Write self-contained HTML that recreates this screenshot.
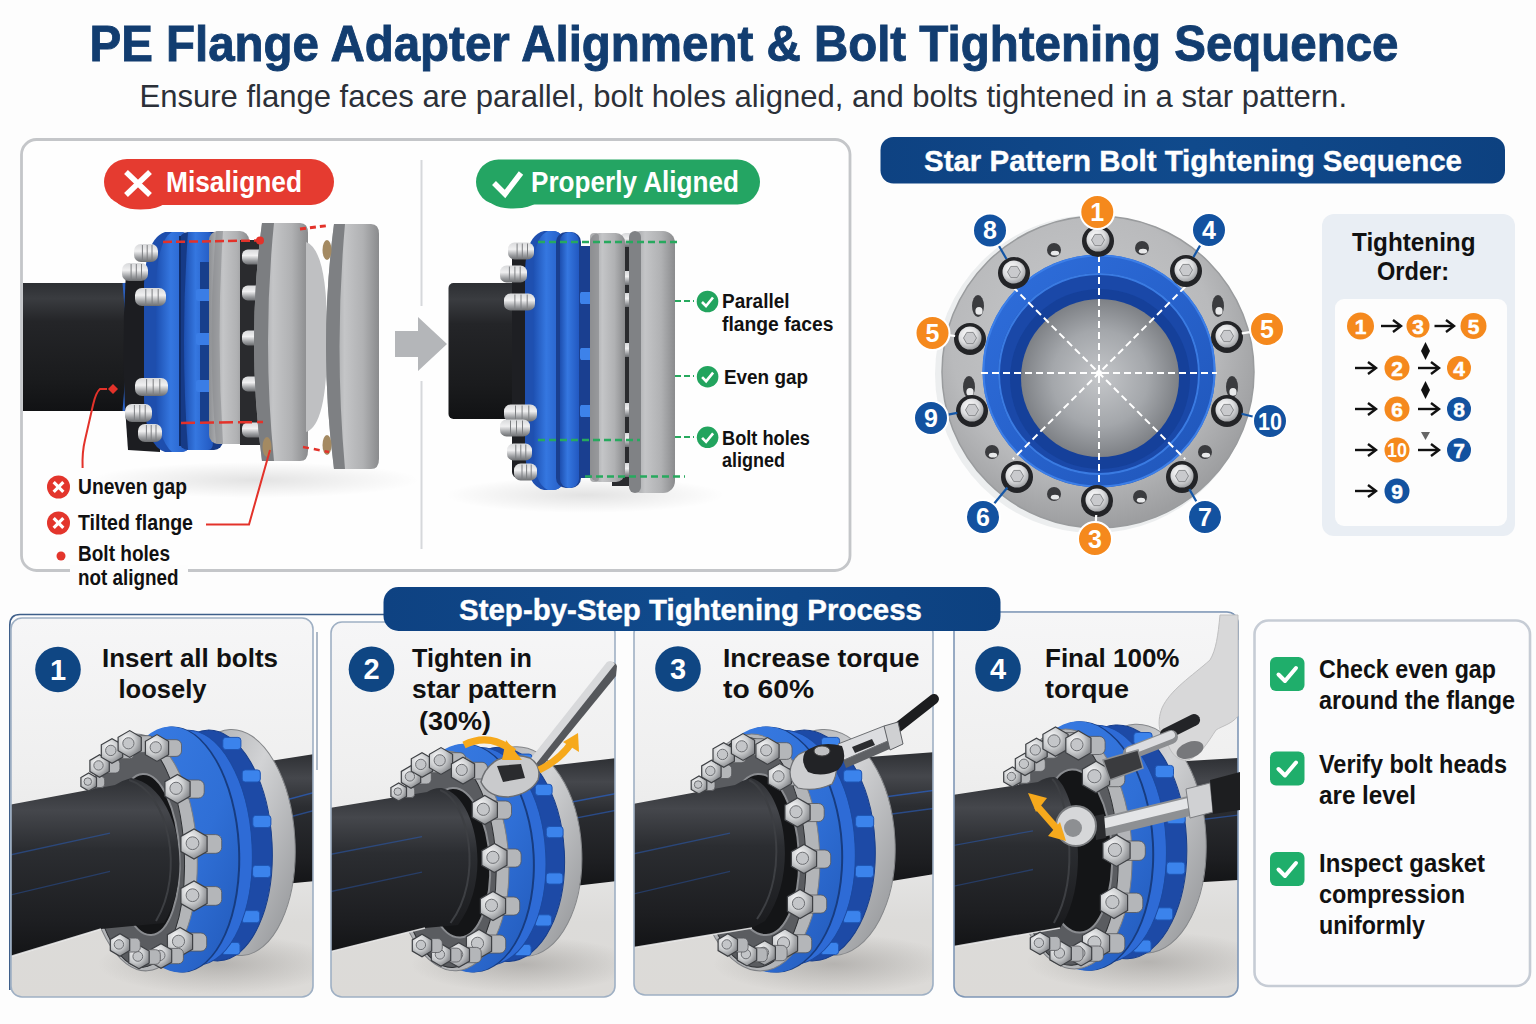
<!DOCTYPE html>
<html><head><meta charset="utf-8"><title>PE Flange Adapter Alignment</title>
<style>html,body{margin:0;padding:0;background:#fdfdfd;}svg{display:block;}</style></head>
<body><svg width="1536" height="1024" viewBox="0 0 1536 1024">
<defs>
<linearGradient id="pipeV" x1="0" y1="0" x2="0" y2="1">
 <stop offset="0" stop-color="#2d2f33"/><stop offset="0.12" stop-color="#3a3c40"/><stop offset="0.3" stop-color="#242528"/>
 <stop offset="0.75" stop-color="#1a1b1d"/><stop offset="1" stop-color="#111214"/></linearGradient>
<linearGradient id="metalH" x1="0" y1="0" x2="1" y2="0">
 <stop offset="0" stop-color="#8e9093"/><stop offset="0.35" stop-color="#c4c5c7"/><stop offset="0.7" stop-color="#b0b1b3"/><stop offset="1" stop-color="#8a8b8d"/></linearGradient>
<linearGradient id="blueH" x1="0" y1="0" x2="1" y2="0">
 <stop offset="0" stop-color="#1d4fb0"/><stop offset="0.4" stop-color="#3577e0"/><stop offset="1" stop-color="#2258c0"/></linearGradient>
<linearGradient id="panelBg" x1="0" y1="0" x2="0" y2="1">
 <stop offset="0" stop-color="#f4f4f5"/><stop offset="0.45" stop-color="#e9e9ea"/><stop offset="0.7" stop-color="#dddbd9"/><stop offset="1" stop-color="#e6e4e2"/></linearGradient>
<linearGradient id="navyBar" x1="0" y1="0" x2="1" y2="0">
 <stop offset="0" stop-color="#0e4282"/><stop offset="0.5" stop-color="#104a8c"/><stop offset="1" stop-color="#0d4180"/></linearGradient>
<radialGradient id="shadow" cx="0.5" cy="0.5" r="0.5">
 <stop offset="0" stop-color="#000" stop-opacity="0.18"/><stop offset="1" stop-color="#000" stop-opacity="0"/></radialGradient>
</defs>
<rect x="0" y="0" width="1536" height="1024" fill="#fdfdfd"/>
<defs><linearGradient id="boltG" x1="0" y1="0" x2="0" y2="1">
 <stop offset="0" stop-color="#d8d9db"/><stop offset="0.4" stop-color="#f0f0f1"/><stop offset="0.75" stop-color="#9c9ea1"/><stop offset="1" stop-color="#6b6d70"/></linearGradient></defs>
<text x="89.5" y="61.3" font-family="'Liberation Sans', sans-serif" font-size="50.5" font-weight="700" fill="#123d70" text-anchor="start" textLength="1309" lengthAdjust="spacingAndGlyphs" stroke="#123d70" stroke-width="0.9">PE Flange Adapter Alignment &amp; Bolt Tightening Sequence</text>
<text x="139.5" y="107" font-family="'Liberation Sans', sans-serif" font-size="31.5" font-weight="400" fill="#2b3038" text-anchor="start" textLength="1207.5" lengthAdjust="spacingAndGlyphs" >Ensure flange faces are parallel, bolt holes aligned, and bolts tightened in a star pattern.</text>
<rect x="21.5" y="139.5" width="828.5" height="431" rx="15" fill="#fefefe" stroke="#c4c6c9" stroke-width="2.8"/>
<line x1="421.5" y1="160" x2="421.5" y2="549" stroke="#d6d8db" stroke-width="2"/>
<path d="M113 196 Q118 212 150 209 Q162 207 170 200 L120 190 Z" fill="#e53b30"/>
<rect x="104" y="159" width="230" height="46" rx="23" fill="#e53b30"/>
<path d="M126 172 L150 195 M150 172 L126 195" stroke="#fff" stroke-width="5.5" stroke-linecap="butt"/>
<text x="166" y="192" font-family="'Liberation Sans', sans-serif" font-size="29" font-weight="700" fill="#fff" text-anchor="start" textLength="136" lengthAdjust="spacingAndGlyphs" >Misaligned</text>
<path d="M484 194 Q490 211 522 208 Q534 206 542 199 L492 190 Z" fill="#24a563"/>
<rect x="476" y="159.5" width="284" height="45" rx="22.5" fill="#24a563"/>
<path d="M494 183 L505 194 L521 173" stroke="#fff" stroke-width="5.5" fill="none" stroke-linecap="butt" stroke-linejoin="miter"/>
<text x="531" y="191.5" font-family="'Liberation Sans', sans-serif" font-size="29" font-weight="700" fill="#fff" text-anchor="start" textLength="208" lengthAdjust="spacingAndGlyphs" >Properly Aligned</text>
<ellipse cx="255" cy="480" rx="165" ry="18" fill="url(#shadow)" opacity="0.6"/>
<rect x="23" y="283" width="106" height="128" fill="url(#pipeV)"/>
<path d="M124 283 Q131 347 124 411" stroke="#2a5fc0" stroke-width="3" fill="none"/>
<path d="M126 272 L160 262 L160 452 L128 450 Q120 360 126 272 Z" fill="#1c1d21"/>
<path d="M165 232 L180 232 Q193 232 193 250 L193 434 Q193 452 180 452 L165 452 Q146 446 144 400 L144 284 Q146 238 165 232 Z" fill="#1e4ead"/>
<path d="M172 232 L180 232 Q193 232 193 250 L193 434 Q193 452 180 452 L172 452 Q158 440 156 400 L156 284 Q158 240 172 232 Z" fill="url(#blueH)"/>
<rect x="179" y="232" width="44" height="218" rx="9" fill="#163a86"/>
<path d="M188 232 L208 232 Q213 232 213 240 L213 442 Q213 450 208 450 L188 450 Q180 341 188 232 Z" fill="url(#blueH)"/>
<line x1="180" y1="236" x2="180" y2="446" stroke="#0f2b66" stroke-width="2"/>
<rect x="200" y="262" width="12" height="160" fill="#173f8c"/>
<rect x="196" y="289" width="20" height="12" rx="2" fill="#3a7de6"/>
<rect x="196" y="333" width="20" height="12" rx="2" fill="#3a7de6"/>
<rect x="196" y="380" width="20" height="12" rx="2" fill="#3a7de6"/>
<rect x="209" y="231" width="40" height="213" rx="9" fill="url(#metalH)"/>
<path d="M216 231 Q207 337 216 444 L223 444 Q216 337 223 231 Z" fill="#8a8c8f" opacity="0.6"/>
<rect x="240" y="240" width="20" height="205" fill="#2a2b2e"/>
<rect x="242" y="249.5" width="26" height="15" rx="5.769230769230769" fill="url(#boltG)"/>
<rect x="242" y="285.5" width="26" height="15" rx="5.769230769230769" fill="url(#boltG)"/>
<rect x="242" y="330.5" width="26" height="15" rx="5.769230769230769" fill="url(#boltG)"/>
<rect x="242" y="376.5" width="26" height="15" rx="5.769230769230769" fill="url(#boltG)"/>
<rect x="242" y="422.5" width="26" height="15" rx="5.769230769230769" fill="url(#boltG)"/>
<path d="M262 223 L300 223 Q308 223 308 233 L308 451 Q308 461 300 461 L262 461 Q246 342 262 223 Z" fill="url(#metalH)"/>
<path d="M262 223 Q246 342 262 461 L274 461 Q262 342 274 223 Z" fill="#7c7e81"/>
<path d="M306 242 Q328 250 327 337 Q328 425 306 432 Z" fill="#bfc0c2"/>
<path d="M334 224 L371 224 Q379 224 379 234 L379 459 Q379 469 371 469 L334 469 Q318 347 334 224 Z" fill="url(#metalH)"/>
<path d="M334 224 Q318 347 334 469 L345 469 Q334 347 345 224 Z" fill="#7e8083"/>
<ellipse cx="327" cy="250" rx="4.5" ry="10" fill="#a48a62"/>
<ellipse cx="327" cy="445" rx="4.5" ry="10" fill="#a48a62"/>
<ellipse cx="267" cy="447" rx="4.5" ry="10" fill="#a48a62"/>
<rect x="134" y="244.0" width="24" height="18" rx="6.9230769230769225" fill="url(#boltG)"/>
<line x1="142.4" y1="245.0" x2="142.4" y2="261.0" stroke="#7d7f82" stroke-width="1"/>
<line x1="147.2" y1="245.0" x2="147.2" y2="261.0" stroke="#7d7f82" stroke-width="1"/>
<line x1="152.0" y1="245.0" x2="152.0" y2="261.0" stroke="#7d7f82" stroke-width="1"/>
<rect x="122" y="263.0" width="26" height="18" rx="6.9230769230769225" fill="url(#boltG)"/>
<line x1="131.1" y1="264.0" x2="131.1" y2="280.0" stroke="#7d7f82" stroke-width="1"/>
<line x1="136.3" y1="264.0" x2="136.3" y2="280.0" stroke="#7d7f82" stroke-width="1"/>
<line x1="141.5" y1="264.0" x2="141.5" y2="280.0" stroke="#7d7f82" stroke-width="1"/>
<rect x="135" y="288.0" width="31" height="18" rx="6.9230769230769225" fill="url(#boltG)"/>
<line x1="145.8" y1="289.0" x2="145.8" y2="305.0" stroke="#7d7f82" stroke-width="1"/>
<line x1="152.1" y1="289.0" x2="152.1" y2="305.0" stroke="#7d7f82" stroke-width="1"/>
<line x1="158.2" y1="289.0" x2="158.2" y2="305.0" stroke="#7d7f82" stroke-width="1"/>
<rect x="135" y="378.0" width="33" height="18" rx="6.9230769230769225" fill="url(#boltG)"/>
<line x1="146.6" y1="379.0" x2="146.6" y2="395.0" stroke="#7d7f82" stroke-width="1"/>
<line x1="153.2" y1="379.0" x2="153.2" y2="395.0" stroke="#7d7f82" stroke-width="1"/>
<line x1="159.8" y1="379.0" x2="159.8" y2="395.0" stroke="#7d7f82" stroke-width="1"/>
<rect x="125" y="404.0" width="27" height="18" rx="6.9230769230769225" fill="url(#boltG)"/>
<line x1="134.4" y1="405.0" x2="134.4" y2="421.0" stroke="#7d7f82" stroke-width="1"/>
<line x1="139.8" y1="405.0" x2="139.8" y2="421.0" stroke="#7d7f82" stroke-width="1"/>
<line x1="145.2" y1="405.0" x2="145.2" y2="421.0" stroke="#7d7f82" stroke-width="1"/>
<rect x="138" y="424.0" width="24" height="18" rx="6.9230769230769225" fill="url(#boltG)"/>
<line x1="146.4" y1="425.0" x2="146.4" y2="441.0" stroke="#7d7f82" stroke-width="1"/>
<line x1="151.2" y1="425.0" x2="151.2" y2="441.0" stroke="#7d7f82" stroke-width="1"/>
<line x1="156.0" y1="425.0" x2="156.0" y2="441.0" stroke="#7d7f82" stroke-width="1"/>
<path d="M163 242 L260 240.5" stroke="#e3322a" stroke-width="2.5" stroke-dasharray="9 4"/>
<circle cx="260" cy="240.5" r="4" fill="#e3322a"/>
<path d="M300 229 L329 225.5" stroke="#e3322a" stroke-width="3" stroke-dasharray="6 4"/>
<path d="M181 423 L263 422" stroke="#e3322a" stroke-width="2.5" stroke-dasharray="14 5"/>
<path d="M303 447 L329 452" stroke="#e3322a" stroke-width="2.5" stroke-dasharray="6 5"/>
<path d="M107 389 L100 389 Q96 392 93 405 L85 440 Q82 452 82.6 468" stroke="#e3322a" stroke-width="2" fill="none"/>
<path d="M108 389 L113 384 L118 389 L113 394 Z" fill="#e3322a"/>
<path d="M206 524.5 L249 524.5 L270 450" stroke="#e3322a" stroke-width="2" fill="none"/>
<circle cx="58.5" cy="487" r="11.5" fill="#e3352c"/>
<path d="M53.67 482.17 L63.33 491.83 M63.33 482.17 L53.67 491.83" stroke="#fff" stroke-width="3.2"/>
<circle cx="58.5" cy="523" r="11.5" fill="#e3352c"/>
<path d="M53.67 518.17 L63.33 527.83 M63.33 518.17 L53.67 527.83" stroke="#fff" stroke-width="3.2"/>
<text x="78" y="494" font-family="'Liberation Sans', sans-serif" font-size="22" font-weight="700" fill="#111" text-anchor="start" textLength="109" lengthAdjust="spacingAndGlyphs" >Uneven gap</text>
<text x="78" y="529.5" font-family="'Liberation Sans', sans-serif" font-size="22" font-weight="700" fill="#111" text-anchor="start" textLength="115" lengthAdjust="spacingAndGlyphs" >Tilted flange</text>
<rect x="70" y="565" width="118" height="10" fill="#fdfdfd"/>
<circle cx="61" cy="556" r="4.5" fill="#e3352c"/>
<text x="78" y="561" font-family="'Liberation Sans', sans-serif" font-size="22" font-weight="700" fill="#111" text-anchor="start" textLength="92" lengthAdjust="spacingAndGlyphs" >Bolt holes</text>
<text x="78" y="585" font-family="'Liberation Sans', sans-serif" font-size="22" font-weight="700" fill="#111" text-anchor="start" textLength="100.5" lengthAdjust="spacingAndGlyphs" >not aligned</text>
<rect x="418" y="306" width="7" height="75" fill="#fefefe"/>
<path d="M395 331 L418 331 L418 317 L447 344 L418 371 L418 357 L395 357 Z" fill="#b4b6b9"/>
<ellipse cx="585" cy="495" rx="140" ry="18" fill="url(#shadow)" opacity="0.6"/>
<rect x="448.5" y="283" width="80" height="136" rx="5" fill="url(#pipeV)"/>
<rect x="512" y="246" width="20" height="232" rx="6" fill="#1e1f23"/>
<rect x="572" y="246" width="30" height="232" fill="#1a3f90"/>
<rect x="574" y="292" width="24" height="12" rx="2" fill="#3d82ea"/>
<rect x="574" y="348" width="24" height="12" rx="2" fill="#3d82ea"/>
<rect x="574" y="405" width="24" height="12" rx="2" fill="#3d82ea"/>
<path d="M544 231 L552 231 Q566 231 566 252 L566 469 Q566 490 552 490 L544 490 Q526 486 525 450 L525 271 Q526 235 544 231 Z" fill="#1f50b0"/>
<path d="M548 231 L552 231 Q566 231 566 252 L566 469 Q566 490 552 490 L548 490 Q534 484 533 450 L533 271 Q534 237 548 231 Z" fill="url(#blueH)"/>
<rect x="556" y="232" width="25" height="256" rx="10" fill="#1a3f8f"/>
<rect x="560" y="232" width="19" height="256" rx="9" fill="url(#blueH)"/>
<rect x="580" y="292" width="12" height="12" rx="2" fill="#3d82ea"/>
<rect x="580" y="348" width="12" height="12" rx="2" fill="#3d82ea"/>
<rect x="580" y="405" width="12" height="12" rx="2" fill="#3d82ea"/>
<rect x="612" y="236" width="32" height="250" fill="#2a2b2e"/>
<rect x="620" y="233.0" width="23" height="14" rx="5.384615384615384" fill="url(#boltG)"/>
<rect x="620" y="271.0" width="23" height="14" rx="5.384615384615384" fill="url(#boltG)"/>
<rect x="620" y="293.0" width="23" height="14" rx="5.384615384615384" fill="url(#boltG)"/>
<rect x="620" y="343.0" width="23" height="14" rx="5.384615384615384" fill="url(#boltG)"/>
<rect x="620" y="403.0" width="23" height="14" rx="5.384615384615384" fill="url(#boltG)"/>
<rect x="620" y="433.0" width="23" height="14" rx="5.384615384615384" fill="url(#boltG)"/>
<rect x="620" y="463.0" width="23" height="14" rx="5.384615384615384" fill="url(#boltG)"/>
<rect x="590" y="233" width="35" height="249" rx="9" fill="url(#metalH)"/>
<rect x="590" y="233" width="9" height="249" rx="4" fill="#8b8d90" opacity="0.7"/>
<rect x="629" y="231" width="46" height="262" rx="12" fill="url(#metalH)"/>
<rect x="629" y="231" width="12" height="262" rx="6" fill="#808285"/>
<rect x="508" y="242.5" width="26" height="17" rx="6.538461538461538" fill="url(#boltG)"/>
<line x1="517.1" y1="243.5" x2="517.1" y2="258.5" stroke="#7d7f82" stroke-width="1"/>
<line x1="522.3" y1="243.5" x2="522.3" y2="258.5" stroke="#7d7f82" stroke-width="1"/>
<line x1="527.5" y1="243.5" x2="527.5" y2="258.5" stroke="#7d7f82" stroke-width="1"/>
<rect x="500" y="265.5" width="27" height="17" rx="6.538461538461538" fill="url(#boltG)"/>
<line x1="509.4" y1="266.5" x2="509.4" y2="281.5" stroke="#7d7f82" stroke-width="1"/>
<line x1="514.9" y1="266.5" x2="514.9" y2="281.5" stroke="#7d7f82" stroke-width="1"/>
<line x1="520.2" y1="266.5" x2="520.2" y2="281.5" stroke="#7d7f82" stroke-width="1"/>
<rect x="504" y="293.5" width="31" height="17" rx="6.538461538461538" fill="url(#boltG)"/>
<line x1="514.9" y1="294.5" x2="514.9" y2="309.5" stroke="#7d7f82" stroke-width="1"/>
<line x1="521.0" y1="294.5" x2="521.0" y2="309.5" stroke="#7d7f82" stroke-width="1"/>
<line x1="527.2" y1="294.5" x2="527.2" y2="309.5" stroke="#7d7f82" stroke-width="1"/>
<rect x="504" y="404.5" width="33" height="17" rx="6.538461538461538" fill="url(#boltG)"/>
<line x1="515.5" y1="405.5" x2="515.5" y2="420.5" stroke="#7d7f82" stroke-width="1"/>
<line x1="522.1" y1="405.5" x2="522.1" y2="420.5" stroke="#7d7f82" stroke-width="1"/>
<line x1="528.8" y1="405.5" x2="528.8" y2="420.5" stroke="#7d7f82" stroke-width="1"/>
<rect x="500" y="419.5" width="30" height="17" rx="6.538461538461538" fill="url(#boltG)"/>
<line x1="510.5" y1="420.5" x2="510.5" y2="435.5" stroke="#7d7f82" stroke-width="1"/>
<line x1="516.5" y1="420.5" x2="516.5" y2="435.5" stroke="#7d7f82" stroke-width="1"/>
<line x1="522.5" y1="420.5" x2="522.5" y2="435.5" stroke="#7d7f82" stroke-width="1"/>
<rect x="507" y="443.5" width="25" height="17" rx="6.538461538461538" fill="url(#boltG)"/>
<line x1="515.8" y1="444.5" x2="515.8" y2="459.5" stroke="#7d7f82" stroke-width="1"/>
<line x1="520.8" y1="444.5" x2="520.8" y2="459.5" stroke="#7d7f82" stroke-width="1"/>
<line x1="525.8" y1="444.5" x2="525.8" y2="459.5" stroke="#7d7f82" stroke-width="1"/>
<rect x="514" y="463.5" width="23" height="17" rx="6.538461538461538" fill="url(#boltG)"/>
<line x1="522.0" y1="464.5" x2="522.0" y2="479.5" stroke="#7d7f82" stroke-width="1"/>
<line x1="526.6" y1="464.5" x2="526.6" y2="479.5" stroke="#7d7f82" stroke-width="1"/>
<line x1="531.2" y1="464.5" x2="531.2" y2="479.5" stroke="#7d7f82" stroke-width="1"/>
<path d="M538 242 L679 242" stroke="#27a95e" stroke-width="2.5" stroke-dasharray="7 4"/>
<path d="M538 440 L640 440" stroke="#27a95e" stroke-width="2.5" stroke-dasharray="7 4"/>
<path d="M585 476.5 L685 476.5" stroke="#27a95e" stroke-width="2.5" stroke-dasharray="7 4"/>
<path d="M675 301 L694 301" stroke="#27a95e" stroke-width="2" stroke-dasharray="6 3"/>
<path d="M675 376 L694 376" stroke="#27a95e" stroke-width="2" stroke-dasharray="6 3"/>
<path d="M675 437 L694 437" stroke="#27a95e" stroke-width="2" stroke-dasharray="6 3"/>
<circle cx="707.5" cy="301.5" r="10.8" fill="#22a45e"/>
<path d="M702.0 302.0 L706.0 306.0 L713.0 297.5" stroke="#fff" stroke-width="2.6" fill="none"/>
<circle cx="707.6" cy="376.7" r="10.8" fill="#22a45e"/>
<path d="M702.1 377.2 L706.1 381.2 L713.1 372.7" stroke="#fff" stroke-width="2.6" fill="none"/>
<circle cx="707.6" cy="437.3" r="10.8" fill="#22a45e"/>
<path d="M702.1 437.8 L706.1 441.8 L713.1 433.3" stroke="#fff" stroke-width="2.6" fill="none"/>
<text x="722" y="308" font-family="'Liberation Sans', sans-serif" font-size="19.5" font-weight="700" fill="#111" text-anchor="start" textLength="67.5" lengthAdjust="spacingAndGlyphs" >Parallel</text>
<text x="722" y="331.2" font-family="'Liberation Sans', sans-serif" font-size="19.5" font-weight="700" fill="#111" text-anchor="start" textLength="111.5" lengthAdjust="spacingAndGlyphs" >flange faces</text>
<text x="724" y="383.5" font-family="'Liberation Sans', sans-serif" font-size="19.5" font-weight="700" fill="#111" text-anchor="start" textLength="84" lengthAdjust="spacingAndGlyphs" >Even gap</text>
<text x="722" y="444.7" font-family="'Liberation Sans', sans-serif" font-size="19.5" font-weight="700" fill="#111" text-anchor="start" textLength="88" lengthAdjust="spacingAndGlyphs" >Bolt holes</text>
<text x="722" y="467.1" font-family="'Liberation Sans', sans-serif" font-size="19.5" font-weight="700" fill="#111" text-anchor="start" textLength="63" lengthAdjust="spacingAndGlyphs" >aligned</text>
<rect x="880.5" y="137" width="624.5" height="46.5" rx="13" fill="url(#navyBar)"/>
<text x="924" y="171" font-family="'Liberation Sans', sans-serif" font-size="30" font-weight="700" fill="#fff" text-anchor="start" textLength="538" lengthAdjust="spacingAndGlyphs" stroke="#fff" stroke-width="0.4">Star Pattern Bolt Tightening Sequence</text>
<defs>
<radialGradient id="diskG" cx="0.45" cy="0.4" r="0.6">
 <stop offset="0" stop-color="#c9cacc"/><stop offset="0.7" stop-color="#b9babc"/><stop offset="1" stop-color="#9d9ea0"/></radialGradient>
<radialGradient id="innerG" cx="0.5" cy="0.5" r="0.55">
 <stop offset="0" stop-color="#c4c6c9"/><stop offset="0.55" stop-color="#a4a7ab"/><stop offset="1" stop-color="#74777c"/></radialGradient>
<radialGradient id="nutG" cx="0.4" cy="0.35" r="0.7">
 <stop offset="0" stop-color="#ffffff"/><stop offset="0.55" stop-color="#dcdddf"/><stop offset="1" stop-color="#9a9c9f"/></radialGradient>
<linearGradient id="ringG" x1="0" y1="0" x2="1" y2="1">
 <stop offset="0" stop-color="#2f6fdc"/><stop offset="0.5" stop-color="#2762cc"/><stop offset="1" stop-color="#1f55b8"/></linearGradient>
</defs>
<circle cx="1094" cy="374" r="159" fill="#eceeef"/>
<circle cx="1098" cy="372" r="156" fill="url(#diskG)" stroke="#9a9c9e" stroke-width="1.5"/>
<ellipse cx="1054" cy="250" rx="7" ry="7" fill="#3a3b3e"/>
<ellipse cx="1055" cy="253.15" rx="4.2" ry="2.4499999999999997" fill="#e8e9ea"/>
<ellipse cx="1142" cy="248" rx="7" ry="7" fill="#3a3b3e"/>
<ellipse cx="1143" cy="251.15" rx="4.2" ry="2.4499999999999997" fill="#e8e9ea"/>
<ellipse cx="978" cy="306" rx="6" ry="11" fill="#3a3b3e"/>
<ellipse cx="979" cy="310.95" rx="3.5999999999999996" ry="3.8499999999999996" fill="#e8e9ea"/>
<ellipse cx="1218" cy="306" rx="6" ry="11" fill="#3a3b3e"/>
<ellipse cx="1219" cy="310.95" rx="3.5999999999999996" ry="3.8499999999999996" fill="#e8e9ea"/>
<ellipse cx="969" cy="387" rx="6" ry="11" fill="#3a3b3e"/>
<ellipse cx="970" cy="391.95" rx="3.5999999999999996" ry="3.8499999999999996" fill="#e8e9ea"/>
<ellipse cx="1232" cy="387" rx="6" ry="11" fill="#3a3b3e"/>
<ellipse cx="1233" cy="391.95" rx="3.5999999999999996" ry="3.8499999999999996" fill="#e8e9ea"/>
<ellipse cx="992" cy="452" rx="7" ry="7" fill="#3a3b3e"/>
<ellipse cx="993" cy="455.15" rx="4.2" ry="2.4499999999999997" fill="#e8e9ea"/>
<ellipse cx="1205" cy="452" rx="7" ry="7" fill="#3a3b3e"/>
<ellipse cx="1206" cy="455.15" rx="4.2" ry="2.4499999999999997" fill="#e8e9ea"/>
<ellipse cx="1054" cy="494" rx="7" ry="7" fill="#3a3b3e"/>
<ellipse cx="1055" cy="497.15" rx="4.2" ry="2.4499999999999997" fill="#e8e9ea"/>
<ellipse cx="1140" cy="497" rx="7" ry="7" fill="#3a3b3e"/>
<ellipse cx="1141" cy="500.15" rx="4.2" ry="2.4499999999999997" fill="#e8e9ea"/>
<circle cx="1099" cy="371" r="116.5" fill="url(#ringG)"/>
<circle cx="1099" cy="371" r="115.5" fill="none" stroke="#3d7fe8" stroke-width="2"/>
<circle cx="1099" cy="374" r="101" fill="#1a48a8"/>
<circle cx="1099" cy="374" r="100" fill="none" stroke="#3a7be2" stroke-width="2"/>
<circle cx="1100" cy="379" r="90" fill="#15409a"/>
<circle cx="1100" cy="378" r="79" fill="url(#innerG)"/>
<line x1="981.0" y1="373.0" x2="1217.0" y2="373.0" stroke="#fff" stroke-width="2" stroke-dasharray="7 4"/>
<line x1="1012.7" y1="286.7" x2="1185.3" y2="459.3" stroke="#fff" stroke-width="2" stroke-dasharray="7 4"/>
<line x1="1099.0" y1="255.0" x2="1099.0" y2="491.0" stroke="#fff" stroke-width="2" stroke-dasharray="7 4"/>
<line x1="1185.3" y1="286.7" x2="1012.7" y2="459.3" stroke="#fff" stroke-width="2" stroke-dasharray="7 4"/>
<circle cx="1099" cy="373" r="3" fill="#fff"/>
<circle cx="1098" cy="241" r="16" fill="#232427"/>
<circle cx="1098" cy="240" r="11.5" fill="url(#nutG)"/>
<polygon points="1104.5,240.0 1101.2,245.6 1094.8,245.6 1091.5,240.0 1094.8,234.4 1101.2,234.4" fill="#c9cacd" stroke="#8a8c8f" stroke-width="1"/>
<circle cx="1186" cy="271" r="16" fill="#232427"/>
<circle cx="1186" cy="270" r="11.5" fill="url(#nutG)"/>
<polygon points="1192.5,270.0 1189.2,275.6 1182.8,275.6 1179.5,270.0 1182.8,264.4 1189.2,264.4" fill="#c9cacd" stroke="#8a8c8f" stroke-width="1"/>
<circle cx="1227" cy="337" r="16" fill="#232427"/>
<circle cx="1227" cy="336" r="11.5" fill="url(#nutG)"/>
<polygon points="1233.5,336.0 1230.2,341.6 1223.8,341.6 1220.5,336.0 1223.8,330.4 1230.2,330.4" fill="#c9cacd" stroke="#8a8c8f" stroke-width="1"/>
<circle cx="1227" cy="411" r="16" fill="#232427"/>
<circle cx="1227" cy="410" r="11.5" fill="url(#nutG)"/>
<polygon points="1233.5,410.0 1230.2,415.6 1223.8,415.6 1220.5,410.0 1223.8,404.4 1230.2,404.4" fill="#c9cacd" stroke="#8a8c8f" stroke-width="1"/>
<circle cx="1182" cy="477" r="16" fill="#232427"/>
<circle cx="1182" cy="476" r="11.5" fill="url(#nutG)"/>
<polygon points="1188.5,476.0 1185.2,481.6 1178.8,481.6 1175.5,476.0 1178.8,470.4 1185.2,470.4" fill="#c9cacd" stroke="#8a8c8f" stroke-width="1"/>
<circle cx="1097" cy="501" r="16" fill="#232427"/>
<circle cx="1097" cy="500" r="11.5" fill="url(#nutG)"/>
<polygon points="1103.5,500.0 1100.2,505.6 1093.8,505.6 1090.5,500.0 1093.8,494.4 1100.2,494.4" fill="#c9cacd" stroke="#8a8c8f" stroke-width="1"/>
<circle cx="1017" cy="477" r="16" fill="#232427"/>
<circle cx="1017" cy="476" r="11.5" fill="url(#nutG)"/>
<polygon points="1023.5,476.0 1020.2,481.6 1013.8,481.6 1010.5,476.0 1013.8,470.4 1020.2,470.4" fill="#c9cacd" stroke="#8a8c8f" stroke-width="1"/>
<circle cx="972" cy="411" r="16" fill="#232427"/>
<circle cx="972" cy="410" r="11.5" fill="url(#nutG)"/>
<polygon points="978.5,410.0 975.2,415.6 968.8,415.6 965.5,410.0 968.8,404.4 975.2,404.4" fill="#c9cacd" stroke="#8a8c8f" stroke-width="1"/>
<circle cx="970" cy="339" r="16" fill="#232427"/>
<circle cx="970" cy="338" r="11.5" fill="url(#nutG)"/>
<polygon points="976.5,338.0 973.2,343.6 966.8,343.6 963.5,338.0 966.8,332.4 973.2,332.4" fill="#c9cacd" stroke="#8a8c8f" stroke-width="1"/>
<circle cx="1014" cy="273" r="16" fill="#232427"/>
<circle cx="1014" cy="272" r="11.5" fill="url(#nutG)"/>
<polygon points="1020.5,272.0 1017.2,277.6 1010.8,277.6 1007.5,272.0 1010.8,266.4 1017.2,266.4" fill="#c9cacd" stroke="#8a8c8f" stroke-width="1"/>
<line x1="1097.7" y1="228.0" x2="1097.6" y2="225.0" stroke="#ffffff" stroke-width="2.2"/>
<line x1="998.0" y1="244.3" x2="1006.5" y2="259.0" stroke="#1456a6" stroke-width="2.2"/>
<line x1="1201.0" y1="243.9" x2="1193.5" y2="257.0" stroke="#1456a6" stroke-width="2.2"/>
<line x1="948.4" y1="335.1" x2="955.1" y2="336.0" stroke="#ffffff" stroke-width="2.2"/>
<line x1="1251.2" y1="331.8" x2="1241.8" y2="333.4" stroke="#ffffff" stroke-width="2.2"/>
<line x1="946.7" y1="414.9" x2="957.3" y2="412.9" stroke="#1456a6" stroke-width="2.2"/>
<line x1="1254.5" y1="417.0" x2="1241.5" y2="413.7" stroke="#1456a6" stroke-width="2.2"/>
<line x1="993.2" y1="504.7" x2="1007.4" y2="487.5" stroke="#1456a6" stroke-width="2.2"/>
<line x1="1197.2" y1="503.0" x2="1189.3" y2="489.1" stroke="#1456a6" stroke-width="2.2"/>
<line x1="1095.8" y1="523.0" x2="1096.2" y2="515.0" stroke="#ffffff" stroke-width="2.2"/>
<circle cx="1097.3" cy="212" r="17" fill="#f5891d" stroke="#ffffff" stroke-width="2"/>
<text x="1097.3" y="221" font-family="'Liberation Sans', sans-serif" font-size="25" font-weight="700" fill="#fff" text-anchor="middle" >1</text>
<circle cx="990" cy="230.4" r="17" fill="#1352a0" stroke="#ffffff" stroke-width="2"/>
<text x="990" y="239.4" font-family="'Liberation Sans', sans-serif" font-size="25" font-weight="700" fill="#fff" text-anchor="middle" >8</text>
<circle cx="1209" cy="230" r="17" fill="#1352a0" stroke="#ffffff" stroke-width="2"/>
<text x="1209" y="239" font-family="'Liberation Sans', sans-serif" font-size="25" font-weight="700" fill="#fff" text-anchor="middle" >4</text>
<circle cx="932.5" cy="333" r="17" fill="#f5891d" stroke="#ffffff" stroke-width="2"/>
<text x="932.5" y="342" font-family="'Liberation Sans', sans-serif" font-size="25" font-weight="700" fill="#fff" text-anchor="middle" >5</text>
<circle cx="1267" cy="329" r="17" fill="#f5891d" stroke="#ffffff" stroke-width="2"/>
<text x="1267" y="338" font-family="'Liberation Sans', sans-serif" font-size="25" font-weight="700" fill="#fff" text-anchor="middle" >5</text>
<circle cx="931" cy="418" r="17" fill="#1352a0" stroke="#ffffff" stroke-width="2"/>
<text x="931" y="427" font-family="'Liberation Sans', sans-serif" font-size="25" font-weight="700" fill="#fff" text-anchor="middle" >9</text>
<circle cx="1270" cy="421" r="17" fill="#1352a0" stroke="#ffffff" stroke-width="2"/>
<text x="1270" y="429.5" font-family="'Liberation Sans', sans-serif" font-size="23" font-weight="700" fill="#fff" text-anchor="middle" textLength="24" lengthAdjust="spacingAndGlyphs" >10</text>
<circle cx="983" cy="517" r="17" fill="#1352a0" stroke="#ffffff" stroke-width="2"/>
<text x="983" y="526" font-family="'Liberation Sans', sans-serif" font-size="25" font-weight="700" fill="#fff" text-anchor="middle" >6</text>
<circle cx="1205" cy="517" r="17" fill="#1352a0" stroke="#ffffff" stroke-width="2"/>
<text x="1205" y="526" font-family="'Liberation Sans', sans-serif" font-size="25" font-weight="700" fill="#fff" text-anchor="middle" >7</text>
<circle cx="1095" cy="539" r="17" fill="#f5891d" stroke="#ffffff" stroke-width="2"/>
<text x="1095" y="548" font-family="'Liberation Sans', sans-serif" font-size="25" font-weight="700" fill="#fff" text-anchor="middle" >3</text>
<rect x="1322" y="214" width="193" height="322" rx="12" fill="#e9eef4"/>
<text x="1352" y="251" font-family="'Liberation Sans', sans-serif" font-size="25" font-weight="700" fill="#111" text-anchor="start" textLength="123.5" lengthAdjust="spacingAndGlyphs" >Tightening</text>
<text x="1377" y="279.5" font-family="'Liberation Sans', sans-serif" font-size="25" font-weight="700" fill="#111" text-anchor="start" textLength="72" lengthAdjust="spacingAndGlyphs" >Order:</text>
<rect x="1335" y="299" width="172" height="227" rx="9" fill="#fdfdfd"/>
<circle cx="1360.5" cy="326" r="13.5" fill="#f5891d"/>
<text x="1360.5" y="333.5" font-family="'Liberation Sans', sans-serif" font-size="21" font-weight="700" fill="#fff" text-anchor="middle" stroke="#fff" stroke-width="0.5">1</text>
<path d="M1381 326 L1399 326" stroke="#111" stroke-width="2.4"/>
<path d="M1393 320 L1401 326 L1393 332" stroke="#111" stroke-width="2.4" fill="none"/>
<circle cx="1418" cy="326" r="11.5" fill="#f5891d"/>
<text x="1418" y="333.5" font-family="'Liberation Sans', sans-serif" font-size="21" font-weight="700" fill="#fff" text-anchor="middle" stroke="#fff" stroke-width="0.5">3</text>
<path d="M1434.5 326 L1452 326" stroke="#111" stroke-width="2.4"/>
<path d="M1446 320 L1454 326 L1446 332" stroke="#111" stroke-width="2.4" fill="none"/>
<circle cx="1473.5" cy="326" r="13" fill="#f5891d"/>
<text x="1473.5" y="333.5" font-family="'Liberation Sans', sans-serif" font-size="21" font-weight="700" fill="#fff" text-anchor="middle" stroke="#fff" stroke-width="0.5">5</text>
<path d="M1355 368 L1374 368" stroke="#111" stroke-width="2.4"/>
<path d="M1368 362 L1376 368 L1368 374" stroke="#111" stroke-width="2.4" fill="none"/>
<circle cx="1397" cy="368" r="12.5" fill="#f5891d"/>
<text x="1397" y="375.5" font-family="'Liberation Sans', sans-serif" font-size="21" font-weight="700" fill="#fff" text-anchor="middle" stroke="#fff" stroke-width="0.5">2</text>
<path d="M1418 368 L1437 368" stroke="#111" stroke-width="2.4"/>
<path d="M1431 362 L1439 368 L1431 374" stroke="#111" stroke-width="2.4" fill="none"/>
<circle cx="1459" cy="368" r="12" fill="#f5891d"/>
<text x="1459" y="375.5" font-family="'Liberation Sans', sans-serif" font-size="21" font-weight="700" fill="#fff" text-anchor="middle" stroke="#fff" stroke-width="0.5">4</text>
<path d="M1355 409 L1374 409" stroke="#111" stroke-width="2.4"/>
<path d="M1368 403 L1376 409 L1368 415" stroke="#111" stroke-width="2.4" fill="none"/>
<circle cx="1397" cy="409" r="12.5" fill="#f5891d"/>
<text x="1397" y="416.5" font-family="'Liberation Sans', sans-serif" font-size="21" font-weight="700" fill="#fff" text-anchor="middle" stroke="#fff" stroke-width="0.5">6</text>
<path d="M1418 409 L1437 409" stroke="#111" stroke-width="2.4"/>
<path d="M1431 403 L1439 409 L1431 415" stroke="#111" stroke-width="2.4" fill="none"/>
<circle cx="1459" cy="409" r="12" fill="#1352a0"/>
<text x="1459" y="416.5" font-family="'Liberation Sans', sans-serif" font-size="21" font-weight="700" fill="#fff" text-anchor="middle" stroke="#fff" stroke-width="0.5">8</text>
<path d="M1355 450 L1374 450" stroke="#111" stroke-width="2.4"/>
<path d="M1368 444 L1376 450 L1368 456" stroke="#111" stroke-width="2.4" fill="none"/>
<circle cx="1397" cy="450" r="12.5" fill="#f5891d"/>
<text x="1397" y="457" font-family="'Liberation Sans', sans-serif" font-size="20" font-weight="700" fill="#fff" text-anchor="middle" textLength="20" lengthAdjust="spacingAndGlyphs" >10</text>
<path d="M1418 450 L1437 450" stroke="#111" stroke-width="2.4"/>
<path d="M1431 444 L1439 450 L1431 456" stroke="#111" stroke-width="2.4" fill="none"/>
<circle cx="1459" cy="450" r="12" fill="#1352a0"/>
<text x="1459" y="457.5" font-family="'Liberation Sans', sans-serif" font-size="21" font-weight="700" fill="#fff" text-anchor="middle" stroke="#fff" stroke-width="0.5">7</text>
<path d="M1355 491 L1374 491" stroke="#111" stroke-width="2.4"/>
<path d="M1368 485 L1376 491 L1368 497" stroke="#111" stroke-width="2.4" fill="none"/>
<circle cx="1397" cy="491" r="12.5" fill="#1352a0"/>
<text x="1397" y="498.5" font-family="'Liberation Sans', sans-serif" font-size="21" font-weight="700" fill="#fff" text-anchor="middle" stroke="#fff" stroke-width="0.5">9</text>
<path d="M1425.5 342 L1430 351 L1425.5 360 L1421 351 Z" fill="#111"/>
<path d="M1425.5 381 L1430 390 L1425.5 399 L1421 390 Z" fill="#111"/>
<path d="M1421 432 L1430 432 L1425.5 440 Z" fill="#666"/>
<defs>
<linearGradient id="stepBg" x1="0" y1="0" x2="0" y2="1">
 <stop offset="0" stop-color="#f6f6f7"/><stop offset="0.4" stop-color="#efefef"/><stop offset="0.62" stop-color="#e8e8e8"/>
 <stop offset="0.8" stop-color="#dcdbd9"/><stop offset="1" stop-color="#dcdad7"/></linearGradient>
<linearGradient id="pipeT" x1="0" y1="0" x2="0" y2="1">
 <stop offset="0" stop-color="#2e3034"/><stop offset="0.18" stop-color="#45474c"/><stop offset="0.4" stop-color="#2b2d31"/>
 <stop offset="0.8" stop-color="#1d1e21"/><stop offset="1" stop-color="#131416"/></linearGradient>
<linearGradient id="metalV" x1="0" y1="0" x2="1" y2="1">
 <stop offset="0" stop-color="#9c9ea1"/><stop offset="0.45" stop-color="#d2d3d5"/><stop offset="1" stop-color="#8d8f92"/></linearGradient>
<linearGradient id="blueD" x1="0" y1="0" x2="1" y2="1">
 <stop offset="0" stop-color="#3a7ee6"/><stop offset="0.6" stop-color="#2f6fd6"/><stop offset="1" stop-color="#2158b8"/></linearGradient>
<radialGradient id="boltR" cx="0.35" cy="0.35" r="0.75">
 <stop offset="0" stop-color="#fbfbfc"/><stop offset="0.5" stop-color="#cbcdcf"/><stop offset="1" stop-color="#7c7e82"/></radialGradient>
<radialGradient id="floorSh" cx="0.5" cy="0.5" r="0.5">
 <stop offset="0" stop-color="#5a5754" stop-opacity="0.3"/><stop offset="1" stop-color="#5a5754" stop-opacity="0"/></radialGradient>
</defs>
<path d="M384 614.5 L20 614.5 Q9.8 614.5 9.8 625 L9.8 990" stroke="#3e5f8a" stroke-width="1.6" fill="none"/>
<path d="M1000 612.5 L1226 612.5 Q1238 612.5 1238 625 L1238 640" stroke="#5f7ea6" stroke-width="1.6" fill="none"/>
<line x1="317" y1="632" x2="317" y2="770" stroke="#8a9bb0" stroke-width="1.4"/>
<clipPath id="clip1"><rect x="11" y="618" width="302" height="379" rx="11"/></clipPath>
<rect x="11" y="618" width="302" height="379" rx="11" fill="url(#stepBg)"/>
<g clip-path="url(#clip1)">
<ellipse cx="218.3" cy="964.0" rx="120.5" ry="30.1" fill="url(#floorSh)"/>
<path d="M250 764 L315 754 L315 881 L250 887 Z" fill="url(#pipeT)"/>
<path d="M270 804.2 L315 792.2" stroke="#2a5fc0" stroke-width="1.6" opacity="0.75"/>
<path d="M270 822.2 L315 810.2" stroke="#2a5fc0" stroke-width="1.4" opacity="0.6"/>
<ellipse cx="236.0" cy="842.5" rx="59.0" ry="113.2" transform="rotate(-3 236.0 842.5)" fill="url(#metalV)" stroke="#85878a" stroke-width="1"/>
<ellipse cx="210.2" cy="843.5" rx="56.6" ry="104.1" transform="rotate(-3 210.2 843.5)" fill="#25272b"/>
<ellipse cx="213.1" cy="845.5" rx="59.0" ry="115.5" transform="rotate(-3 213.1 845.5)" fill="#1d4aa6" stroke="#173d8a" stroke-width="1"/>
<rect x="222.8" y="737.4" width="18.1" height="12.1" rx="3" fill="#3b83ec" stroke="#1f55b3" stroke-width="1"/>
<rect x="242.2" y="769.9" width="18.1" height="12.1" rx="3" fill="#3b83ec" stroke="#1f55b3" stroke-width="1"/>
<rect x="252.8" y="815.4" width="18.1" height="12.1" rx="3" fill="#3b83ec" stroke="#1f55b3" stroke-width="1"/>
<rect x="252.6" y="865.4" width="18.1" height="12.1" rx="3" fill="#3b83ec" stroke="#1f55b3" stroke-width="1"/>
<rect x="241.6" y="910.6" width="18.1" height="12.1" rx="3" fill="#3b83ec" stroke="#1f55b3" stroke-width="1"/>
<rect x="221.9" y="942.4" width="18.1" height="12.1" rx="3" fill="#3b83ec" stroke="#1f55b3" stroke-width="1"/>
<ellipse cx="193.1" cy="847.5" rx="59.0" ry="117.3" transform="rotate(-3 193.1 847.5)" fill="#2e6bd6" stroke="#1c4aa0" stroke-width="1"/>
<ellipse cx="177.5" cy="849.5" rx="62.5" ry="123.2" transform="rotate(-3 177.5 849.5)" fill="#173c80"/>
<ellipse cx="175.5" cy="849.5" rx="62.5" ry="123.2" transform="rotate(-3 175.5 849.5)" fill="url(#blueD)"/>
<ellipse cx="141.0" cy="852.5" rx="56.0" ry="118.5" transform="rotate(-3 141.0 852.5)" fill="#b3b5b8" stroke="#7d7f83" stroke-width="1"/>
<ellipse cx="137.0" cy="852.5" rx="47.2" ry="114.9" transform="rotate(-3 137.0 852.5)" fill="#5a5c60" stroke="#2c2e31" stroke-width="1"/>
<ellipse cx="147.0" cy="854.5" rx="32.5" ry="80.6" transform="rotate(-3 147.0 854.5)" fill="#141517" stroke="#8a8c90" stroke-width="2"/>
<path d="M9 805 L115 785 Q123.0 780.0 131.1 778 C177.0 786.0 195.1 872.8 164 923 L101 929 L9 957 Z" fill="url(#pipeT)"/>
<path d="M9 855.2 L110 833.2" stroke="#2a5fc0" stroke-width="1.3" opacity="0.5"/>
<path d="M9 895.4 L110 871.4" stroke="#2a5fc0" stroke-width="1.3" opacity="0.4"/>
<path d="M9 957 L101 929" stroke="#f0f0f0" stroke-width="1.6" opacity="0.85"/>
<path d="M129.1 780 C168.9 792.1 185.0 872.8 156.0 921" stroke="#3d3f43" stroke-width="2" fill="none"/>
<rect x="87.7" y="776.4" width="17.0" height="11.1" rx="3.6" fill="#b4b6b9" stroke="#55575b" stroke-width="0.8"/>
<polygon points="96.5,786.5 88.7,791.0 80.9,786.5 80.9,777.5 88.7,773.0 96.5,777.5" fill="url(#boltR)" stroke="#3e4044" stroke-width="1.2"/>
<circle cx="87.8" cy="781.6" r="3.8" fill="#c4c6c9" stroke="#6d6f73" stroke-width="1"/>
<rect x="98.6" y="759.1" width="21.3" height="13.9" rx="4.5" fill="#b4b6b9" stroke="#55575b" stroke-width="0.8"/>
<polygon points="109.3,771.6 99.6,777.2 89.9,771.6 89.9,760.4 99.6,754.8 109.3,760.4" fill="url(#boltR)" stroke="#3e4044" stroke-width="1.2"/>
<circle cx="98.5" cy="765.4" r="4.7" fill="#c4c6c9" stroke="#6d6f73" stroke-width="1"/>
<rect x="111.0" y="743.4" width="23.4" height="15.3" rx="4.9" fill="#b4b6b9" stroke="#55575b" stroke-width="0.8"/>
<polygon points="122.7,757.2 112.0,763.3 101.3,757.2 101.3,744.8 112.0,738.7 122.7,744.8" fill="url(#boltR)" stroke="#3e4044" stroke-width="1.2"/>
<circle cx="110.8" cy="750.4" r="5.2" fill="#c4c6c9" stroke="#6d6f73" stroke-width="1"/>
<rect x="128.7" y="735.7" width="25.5" height="16.7" rx="5.4" fill="#b4b6b9" stroke="#55575b" stroke-width="0.8"/>
<polygon points="141.3,750.7 129.7,757.4 118.1,750.7 118.1,737.3 129.7,730.6 141.3,737.3" fill="url(#boltR)" stroke="#3e4044" stroke-width="1.2"/>
<circle cx="128.4" cy="743.3" r="5.6" fill="#c4c6c9" stroke="#6d6f73" stroke-width="1"/>
<rect x="156.0" y="739.7" width="25.5" height="16.7" rx="5.4" fill="#b4b6b9" stroke="#55575b" stroke-width="0.8"/>
<polygon points="168.6,754.7 157.0,761.4 145.4,754.7 145.4,741.3 157.0,734.6 168.6,741.3" fill="url(#boltR)" stroke="#3e4044" stroke-width="1.2"/>
<circle cx="155.7" cy="747.3" r="5.6" fill="#c4c6c9" stroke="#6d6f73" stroke-width="1"/>
<rect x="176.5" y="780.0" width="27.7" height="18.1" rx="5.8" fill="#b4b6b9" stroke="#55575b" stroke-width="0.8"/>
<polygon points="190.1,796.3 177.5,803.6 164.9,796.3 164.9,781.7 177.5,774.4 190.1,781.7" fill="url(#boltR)" stroke="#3e4044" stroke-width="1.2"/>
<circle cx="176.0" cy="788.3" r="6.1" fill="#c4c6c9" stroke="#6d6f73" stroke-width="1"/>
<rect x="193.0" y="834.6" width="28.7" height="18.7" rx="6.0" fill="#b4b6b9" stroke="#55575b" stroke-width="0.8"/>
<polygon points="207.1,851.6 194.0,859.1 180.9,851.6 180.9,836.4 194.0,828.9 207.1,836.4" fill="url(#boltR)" stroke="#3e4044" stroke-width="1.2"/>
<circle cx="192.5" cy="843.2" r="6.4" fill="#c4c6c9" stroke="#6d6f73" stroke-width="1"/>
<rect x="193.0" y="886.6" width="28.7" height="18.7" rx="6.0" fill="#b4b6b9" stroke="#55575b" stroke-width="0.8"/>
<polygon points="207.1,903.6 194.0,911.1 180.9,903.6 180.9,888.4 194.0,880.9 207.1,888.4" fill="url(#boltR)" stroke="#3e4044" stroke-width="1.2"/>
<circle cx="192.5" cy="895.2" r="6.4" fill="#c4c6c9" stroke="#6d6f73" stroke-width="1"/>
<rect x="179.0" y="933.0" width="27.7" height="18.1" rx="5.8" fill="#b4b6b9" stroke="#55575b" stroke-width="0.8"/>
<polygon points="192.6,949.3 180.0,956.6 167.4,949.3 167.4,934.7 180.0,927.4 192.6,934.7" fill="url(#boltR)" stroke="#3e4044" stroke-width="1.2"/>
<circle cx="178.5" cy="941.3" r="6.1" fill="#c4c6c9" stroke="#6d6f73" stroke-width="1"/>
<rect x="160.0" y="948.4" width="23.4" height="15.3" rx="4.9" fill="#b4b6b9" stroke="#55575b" stroke-width="0.8"/>
<polygon points="171.7,962.2 161.0,968.3 150.3,962.2 150.3,949.8 161.0,943.7 171.7,949.8" fill="url(#boltR)" stroke="#3e4044" stroke-width="1.2"/>
<circle cx="159.8" cy="955.4" r="5.2" fill="#c4c6c9" stroke="#6d6f73" stroke-width="1"/>
<rect x="138.0" y="949.7" width="22.3" height="14.6" rx="4.7" fill="#b4b6b9" stroke="#55575b" stroke-width="0.8"/>
<polygon points="149.2,962.9 139.0,968.8 128.8,962.9 128.8,951.1 139.0,945.2 149.2,951.1" fill="url(#boltR)" stroke="#3e4044" stroke-width="1.2"/>
<circle cx="137.8" cy="956.4" r="4.9" fill="#c4c6c9" stroke="#6d6f73" stroke-width="1"/>
<rect x="119.0" y="938.1" width="21.3" height="13.9" rx="4.5" fill="#b4b6b9" stroke="#55575b" stroke-width="0.8"/>
<polygon points="129.7,950.6 120.0,956.2 110.3,950.6 110.3,939.4 120.0,933.8 129.7,939.4" fill="url(#boltR)" stroke="#3e4044" stroke-width="1.2"/>
<circle cx="118.9" cy="944.4" r="4.7" fill="#c4c6c9" stroke="#6d6f73" stroke-width="1"/>
</g>
<rect x="11" y="618" width="302" height="379" rx="11" fill="none" stroke="#9fb0c4" stroke-width="1.6"/>
<clipPath id="clip2"><rect x="331" y="622" width="284" height="375" rx="11"/></clipPath>
<rect x="331" y="622" width="284" height="375" rx="11" fill="url(#stepBg)"/>
<g clip-path="url(#clip2)">
<ellipse cx="522.6" cy="964.4" rx="111.9" ry="28.0" fill="url(#floorSh)"/>
<path d="M540 767 L617 758 L617 881 L540 890 Z" fill="url(#pipeT)"/>
<path d="M560 804.3 L617 793.4" stroke="#2a5fc0" stroke-width="1.6" opacity="0.75"/>
<path d="M560 821.1 L617 810.2" stroke="#2a5fc0" stroke-width="1.4" opacity="0.6"/>
<ellipse cx="520.7" cy="851.6" rx="61.0" ry="105.0" transform="rotate(-3 520.7 851.6)" fill="url(#metalV)" stroke="#85878a" stroke-width="1"/>
<ellipse cx="497.0" cy="852.5" rx="58.6" ry="96.6" transform="rotate(-3 497.0 852.5)" fill="#25272b"/>
<ellipse cx="503.4" cy="854.4" rx="61.0" ry="107.2" transform="rotate(-3 503.4 854.4)" fill="#1d4aa6" stroke="#173d8a" stroke-width="1"/>
<rect x="515.3" y="754.1" width="16.8" height="11.2" rx="3" fill="#3b83ec" stroke="#1f55b3" stroke-width="1"/>
<rect x="535.3" y="784.3" width="16.8" height="11.2" rx="3" fill="#3b83ec" stroke="#1f55b3" stroke-width="1"/>
<rect x="546.3" y="826.5" width="16.8" height="11.2" rx="3" fill="#3b83ec" stroke="#1f55b3" stroke-width="1"/>
<rect x="546.1" y="872.9" width="16.8" height="11.2" rx="3" fill="#3b83ec" stroke="#1f55b3" stroke-width="1"/>
<rect x="534.7" y="914.8" width="16.8" height="11.2" rx="3" fill="#3b83ec" stroke="#1f55b3" stroke-width="1"/>
<rect x="514.3" y="944.4" width="16.8" height="11.2" rx="3" fill="#3b83ec" stroke="#1f55b3" stroke-width="1"/>
<ellipse cx="484.8" cy="856.3" rx="61.0" ry="108.9" transform="rotate(-3 484.8 856.3)" fill="#2e6bd6" stroke="#1c4aa0" stroke-width="1"/>
<ellipse cx="470.0" cy="858.1" rx="64.7" ry="114.4" transform="rotate(-3 470.0 858.1)" fill="#173c80"/>
<ellipse cx="468.0" cy="858.1" rx="64.7" ry="114.4" transform="rotate(-3 468.0 858.1)" fill="url(#blueD)"/>
<ellipse cx="450.8" cy="860.9" rx="57.9" ry="110.0" transform="rotate(-3 450.8 860.9)" fill="#b3b5b8" stroke="#7d7f83" stroke-width="1"/>
<ellipse cx="447.1" cy="860.9" rx="48.8" ry="106.7" transform="rotate(-3 447.1 860.9)" fill="#5a5c60" stroke="#2c2e31" stroke-width="1"/>
<ellipse cx="456.4" cy="862.8" rx="33.6" ry="74.8" transform="rotate(-3 456.4 862.8)" fill="#141517" stroke="#8a8c90" stroke-width="2"/>
<path d="M329 808 L427 792 Q434.5 787.3 441.9 788 C476.4 795.5 493.2 878.4 458 925 L425 928 L329 952 Z" fill="url(#pipeT)"/>
<path d="M329 854.6 L422 836.7" stroke="#2a5fc0" stroke-width="1.3" opacity="0.5"/>
<path d="M329 891.9 L422 872.2" stroke="#2a5fc0" stroke-width="1.3" opacity="0.4"/>
<path d="M329 952 L425 928" stroke="#f0f0f0" stroke-width="1.6" opacity="0.85"/>
<path d="M440.1 790 C468.9 801.1 483.9 878.4 450.5 923" stroke="#3d3f43" stroke-width="2" fill="none"/>
<rect x="397.7" y="786.4" width="17.0" height="11.1" rx="3.6" fill="#b4b6b9" stroke="#55575b" stroke-width="0.8"/>
<polygon points="406.5,796.5 398.7,801.0 390.9,796.5 390.9,787.5 398.7,783.0 406.5,787.5" fill="url(#boltR)" stroke="#3e4044" stroke-width="1.2"/>
<circle cx="397.8" cy="791.6" r="3.8" fill="#c4c6c9" stroke="#6d6f73" stroke-width="1"/>
<rect x="410.0" y="770.1" width="21.3" height="13.9" rx="4.5" fill="#b4b6b9" stroke="#55575b" stroke-width="0.8"/>
<polygon points="420.7,782.6 411.0,788.2 401.3,782.6 401.3,771.4 411.0,765.8 420.7,771.4" fill="url(#boltR)" stroke="#3e4044" stroke-width="1.2"/>
<circle cx="409.9" cy="776.4" r="4.7" fill="#c4c6c9" stroke="#6d6f73" stroke-width="1"/>
<rect x="421.0" y="757.4" width="23.4" height="15.3" rx="4.9" fill="#b4b6b9" stroke="#55575b" stroke-width="0.8"/>
<polygon points="432.7,771.2 422.0,777.3 411.3,771.2 411.3,758.8 422.0,752.7 432.7,758.8" fill="url(#boltR)" stroke="#3e4044" stroke-width="1.2"/>
<circle cx="420.8" cy="764.4" r="5.2" fill="#c4c6c9" stroke="#6d6f73" stroke-width="1"/>
<rect x="440.0" y="752.7" width="25.5" height="16.7" rx="5.4" fill="#b4b6b9" stroke="#55575b" stroke-width="0.8"/>
<polygon points="452.6,767.7 441.0,774.4 429.4,767.7 429.4,754.3 441.0,747.6 452.6,754.3" fill="url(#boltR)" stroke="#3e4044" stroke-width="1.2"/>
<circle cx="439.7" cy="760.3" r="5.6" fill="#c4c6c9" stroke="#6d6f73" stroke-width="1"/>
<rect x="462.0" y="762.3" width="25.5" height="16.7" rx="5.4" fill="#b4b6b9" stroke="#55575b" stroke-width="0.8"/>
<polygon points="474.6,777.3 463.0,784.0 451.4,777.3 451.4,763.9 463.0,757.2 474.6,763.9" fill="url(#boltR)" stroke="#3e4044" stroke-width="1.2"/>
<circle cx="461.7" cy="769.9" r="5.6" fill="#c4c6c9" stroke="#6d6f73" stroke-width="1"/>
<rect x="483.8" y="801.0" width="27.7" height="18.1" rx="5.8" fill="#b4b6b9" stroke="#55575b" stroke-width="0.8"/>
<polygon points="497.4,817.3 484.8,824.6 472.2,817.3 472.2,802.7 484.8,795.4 497.4,802.7" fill="url(#boltR)" stroke="#3e4044" stroke-width="1.2"/>
<circle cx="483.3" cy="809.3" r="6.1" fill="#c4c6c9" stroke="#6d6f73" stroke-width="1"/>
<rect x="493.4" y="849.0" width="27.7" height="18.1" rx="5.8" fill="#b4b6b9" stroke="#55575b" stroke-width="0.8"/>
<polygon points="507.0,865.3 494.4,872.6 481.8,865.3 481.8,850.7 494.4,843.4 507.0,850.7" fill="url(#boltR)" stroke="#3e4044" stroke-width="1.2"/>
<circle cx="492.9" cy="857.3" r="6.1" fill="#c4c6c9" stroke="#6d6f73" stroke-width="1"/>
<rect x="492.0" y="897.0" width="27.7" height="18.1" rx="5.8" fill="#b4b6b9" stroke="#55575b" stroke-width="0.8"/>
<polygon points="505.6,913.3 493.0,920.6 480.4,913.3 480.4,898.7 493.0,891.4 505.6,898.7" fill="url(#boltR)" stroke="#3e4044" stroke-width="1.2"/>
<circle cx="491.5" cy="905.3" r="6.1" fill="#c4c6c9" stroke="#6d6f73" stroke-width="1"/>
<rect x="478.0" y="935.0" width="27.7" height="18.1" rx="5.8" fill="#b4b6b9" stroke="#55575b" stroke-width="0.8"/>
<polygon points="491.6,951.3 479.0,958.6 466.4,951.3 466.4,936.7 479.0,929.4 491.6,936.7" fill="url(#boltR)" stroke="#3e4044" stroke-width="1.2"/>
<circle cx="477.5" cy="943.3" r="6.1" fill="#c4c6c9" stroke="#6d6f73" stroke-width="1"/>
<rect x="457.8" y="947.4" width="23.4" height="15.3" rx="4.9" fill="#b4b6b9" stroke="#55575b" stroke-width="0.8"/>
<polygon points="469.5,961.2 458.8,967.3 448.1,961.2 448.1,948.8 458.8,942.7 469.5,948.8" fill="url(#boltR)" stroke="#3e4044" stroke-width="1.2"/>
<circle cx="457.6" cy="954.4" r="5.2" fill="#c4c6c9" stroke="#6d6f73" stroke-width="1"/>
<rect x="440.0" y="948.1" width="21.3" height="13.9" rx="4.5" fill="#b4b6b9" stroke="#55575b" stroke-width="0.8"/>
<polygon points="450.7,960.6 441.0,966.2 431.3,960.6 431.3,949.4 441.0,943.8 450.7,949.4" fill="url(#boltR)" stroke="#3e4044" stroke-width="1.2"/>
<circle cx="439.9" cy="954.4" r="4.7" fill="#c4c6c9" stroke="#6d6f73" stroke-width="1"/>
<rect x="421.0" y="938.6" width="21.3" height="13.9" rx="4.5" fill="#b4b6b9" stroke="#55575b" stroke-width="0.8"/>
<polygon points="431.7,951.1 422.0,956.7 412.3,951.1 412.3,939.9 422.0,934.3 431.7,939.9" fill="url(#boltR)" stroke="#3e4044" stroke-width="1.2"/>
<circle cx="420.9" cy="944.9" r="4.7" fill="#c4c6c9" stroke="#6d6f73" stroke-width="1"/>
</g>
<rect x="331" y="622" width="284" height="375" rx="11" fill="none" stroke="#9fb0c4" stroke-width="1.6"/>
<clipPath id="clip3"><rect x="634" y="622" width="299" height="373" rx="11"/></clipPath>
<rect x="634" y="622" width="299" height="373" rx="11" fill="url(#stepBg)"/>
<g clip-path="url(#clip3)">
<ellipse cx="833.3" cy="964.0" rx="120.5" ry="30.1" fill="url(#floorSh)"/>
<path d="M855 758 L935 752 L935 874 L855 887 Z" fill="url(#pipeT)"/>
<path d="M875 798.2 L935 790.2" stroke="#2a5fc0" stroke-width="1.6" opacity="0.75"/>
<path d="M875 816.2 L935 808.2" stroke="#2a5fc0" stroke-width="1.4" opacity="0.6"/>
<ellipse cx="828.0" cy="842.5" rx="67.0" ry="113.2" transform="rotate(-3 828.0 842.5)" fill="url(#metalV)" stroke="#85878a" stroke-width="1"/>
<ellipse cx="802.6" cy="843.5" rx="64.3" ry="104.1" transform="rotate(-3 802.6 843.5)" fill="#25272b"/>
<ellipse cx="808.1" cy="845.5" rx="67.0" ry="115.5" transform="rotate(-3 808.1 845.5)" fill="#1d4aa6" stroke="#173d8a" stroke-width="1"/>
<rect x="821.5" y="737.4" width="18.1" height="12.1" rx="3" fill="#3b83ec" stroke="#1f55b3" stroke-width="1"/>
<rect x="843.6" y="769.9" width="18.1" height="12.1" rx="3" fill="#3b83ec" stroke="#1f55b3" stroke-width="1"/>
<rect x="855.6" y="815.4" width="18.1" height="12.1" rx="3" fill="#3b83ec" stroke="#1f55b3" stroke-width="1"/>
<rect x="855.4" y="865.4" width="18.1" height="12.1" rx="3" fill="#3b83ec" stroke="#1f55b3" stroke-width="1"/>
<rect x="842.9" y="910.6" width="18.1" height="12.1" rx="3" fill="#3b83ec" stroke="#1f55b3" stroke-width="1"/>
<rect x="820.5" y="942.4" width="18.1" height="12.1" rx="3" fill="#3b83ec" stroke="#1f55b3" stroke-width="1"/>
<ellipse cx="788.1" cy="847.5" rx="67.0" ry="117.3" transform="rotate(-3 788.1 847.5)" fill="#2e6bd6" stroke="#1c4aa0" stroke-width="1"/>
<ellipse cx="772.0" cy="849.5" rx="71.0" ry="123.2" transform="rotate(-3 772.0 849.5)" fill="#173c80"/>
<ellipse cx="770.0" cy="849.5" rx="71.0" ry="123.2" transform="rotate(-3 770.0 849.5)" fill="url(#blueD)"/>
<ellipse cx="756.0" cy="852.5" rx="63.6" ry="118.5" transform="rotate(-3 756.0 852.5)" fill="#b3b5b8" stroke="#7d7f83" stroke-width="1"/>
<ellipse cx="752.0" cy="852.5" rx="53.6" ry="114.9" transform="rotate(-3 752.0 852.5)" fill="#5a5c60" stroke="#2c2e31" stroke-width="1"/>
<ellipse cx="762.0" cy="854.5" rx="36.9" ry="80.6" transform="rotate(-3 762.0 854.5)" fill="#141517" stroke="#8a8c90" stroke-width="2"/>
<path d="M632 804 L735 785 Q743.0 780.0 751.1 778 C783.0 786.0 801.1 870.8 765 921 L752 928 L632 948 Z" fill="url(#pipeT)"/>
<path d="M632 854.2 L730 833.2" stroke="#2a5fc0" stroke-width="1.3" opacity="0.5"/>
<path d="M632 894.4 L730 871.4" stroke="#2a5fc0" stroke-width="1.3" opacity="0.4"/>
<path d="M632 948 L752 928" stroke="#f0f0f0" stroke-width="1.6" opacity="0.85"/>
<path d="M749.1 780 C774.9 792.1 791.0 870.8 757.0 919" stroke="#3d3f43" stroke-width="2" fill="none"/>
<rect x="698.0" y="779.4" width="17.0" height="11.1" rx="3.6" fill="#b4b6b9" stroke="#55575b" stroke-width="0.8"/>
<polygon points="706.8,789.5 699.0,794.0 691.2,789.5 691.2,780.5 699.0,776.0 706.8,780.5" fill="url(#boltR)" stroke="#3e4044" stroke-width="1.2"/>
<circle cx="698.1" cy="784.6" r="3.8" fill="#c4c6c9" stroke="#6d6f73" stroke-width="1"/>
<rect x="710.4" y="764.6" width="21.3" height="13.9" rx="4.5" fill="#b4b6b9" stroke="#55575b" stroke-width="0.8"/>
<polygon points="721.1,777.1 711.4,782.7 701.7,777.1 701.7,765.9 711.4,760.3 721.1,765.9" fill="url(#boltR)" stroke="#3e4044" stroke-width="1.2"/>
<circle cx="710.3" cy="770.9" r="4.7" fill="#c4c6c9" stroke="#6d6f73" stroke-width="1"/>
<rect x="722.7" y="747.4" width="23.4" height="15.3" rx="4.9" fill="#b4b6b9" stroke="#55575b" stroke-width="0.8"/>
<polygon points="734.4,761.2 723.7,767.3 713.0,761.2 713.0,748.8 723.7,742.7 734.4,748.8" fill="url(#boltR)" stroke="#3e4044" stroke-width="1.2"/>
<circle cx="722.5" cy="754.4" r="5.2" fill="#c4c6c9" stroke="#6d6f73" stroke-width="1"/>
<rect x="742.0" y="738.7" width="25.5" height="16.7" rx="5.4" fill="#b4b6b9" stroke="#55575b" stroke-width="0.8"/>
<polygon points="754.6,753.7 743.0,760.4 731.4,753.7 731.4,740.3 743.0,733.6 754.6,740.3" fill="url(#boltR)" stroke="#3e4044" stroke-width="1.2"/>
<circle cx="741.7" cy="746.3" r="5.6" fill="#c4c6c9" stroke="#6d6f73" stroke-width="1"/>
<rect x="766.5" y="742.7" width="25.5" height="16.7" rx="5.4" fill="#b4b6b9" stroke="#55575b" stroke-width="0.8"/>
<polygon points="779.1,757.7 767.5,764.4 755.9,757.7 755.9,744.3 767.5,737.6 779.1,744.3" fill="url(#boltR)" stroke="#3e4044" stroke-width="1.2"/>
<circle cx="766.2" cy="750.3" r="5.6" fill="#c4c6c9" stroke="#6d6f73" stroke-width="1"/>
<rect x="778.8" y="768.7" width="25.5" height="16.7" rx="5.4" fill="#b4b6b9" stroke="#55575b" stroke-width="0.8"/>
<polygon points="791.4,783.7 779.8,790.4 768.2,783.7 768.2,770.3 779.8,763.6 791.4,770.3" fill="url(#boltR)" stroke="#3e4044" stroke-width="1.2"/>
<circle cx="778.5" cy="776.3" r="5.6" fill="#c4c6c9" stroke="#6d6f73" stroke-width="1"/>
<rect x="796.5" y="803.5" width="27.7" height="18.1" rx="5.8" fill="#b4b6b9" stroke="#55575b" stroke-width="0.8"/>
<polygon points="810.1,819.8 797.5,827.1 784.9,819.8 784.9,805.2 797.5,797.9 810.1,805.2" fill="url(#boltR)" stroke="#3e4044" stroke-width="1.2"/>
<circle cx="796.0" cy="811.8" r="6.1" fill="#c4c6c9" stroke="#6d6f73" stroke-width="1"/>
<rect x="803.0" y="850.0" width="27.7" height="18.1" rx="5.8" fill="#b4b6b9" stroke="#55575b" stroke-width="0.8"/>
<polygon points="816.6,866.3 804.0,873.6 791.4,866.3 791.4,851.7 804.0,844.4 816.6,851.7" fill="url(#boltR)" stroke="#3e4044" stroke-width="1.2"/>
<circle cx="802.5" cy="858.3" r="6.1" fill="#c4c6c9" stroke="#6d6f73" stroke-width="1"/>
<rect x="799.0" y="895.0" width="27.7" height="18.1" rx="5.8" fill="#b4b6b9" stroke="#55575b" stroke-width="0.8"/>
<polygon points="812.6,911.3 800.0,918.6 787.4,911.3 787.4,896.7 800.0,889.4 812.6,896.7" fill="url(#boltR)" stroke="#3e4044" stroke-width="1.2"/>
<circle cx="798.5" cy="903.3" r="6.1" fill="#c4c6c9" stroke="#6d6f73" stroke-width="1"/>
<rect x="784.0" y="934.7" width="27.7" height="18.1" rx="5.8" fill="#b4b6b9" stroke="#55575b" stroke-width="0.8"/>
<polygon points="797.6,951.0 785.0,958.3 772.4,951.0 772.4,936.4 785.0,929.1 797.6,936.4" fill="url(#boltR)" stroke="#3e4044" stroke-width="1.2"/>
<circle cx="783.5" cy="943.0" r="6.1" fill="#c4c6c9" stroke="#6d6f73" stroke-width="1"/>
<rect x="763.7" y="945.4" width="23.4" height="15.3" rx="4.9" fill="#b4b6b9" stroke="#55575b" stroke-width="0.8"/>
<polygon points="775.4,959.2 764.7,965.3 754.0,959.2 754.0,946.8 764.7,940.7 775.4,946.8" fill="url(#boltR)" stroke="#3e4044" stroke-width="1.2"/>
<circle cx="763.5" cy="952.4" r="5.2" fill="#c4c6c9" stroke="#6d6f73" stroke-width="1"/>
<rect x="746.0" y="947.8" width="21.3" height="13.9" rx="4.5" fill="#b4b6b9" stroke="#55575b" stroke-width="0.8"/>
<polygon points="756.7,960.3 747.0,965.9 737.3,960.3 737.3,949.1 747.0,943.5 756.7,949.1" fill="url(#boltR)" stroke="#3e4044" stroke-width="1.2"/>
<circle cx="745.9" cy="954.1" r="4.7" fill="#c4c6c9" stroke="#6d6f73" stroke-width="1"/>
<rect x="726.8" y="938.1" width="21.3" height="13.9" rx="4.5" fill="#b4b6b9" stroke="#55575b" stroke-width="0.8"/>
<polygon points="737.5,950.6 727.8,956.2 718.1,950.6 718.1,939.4 727.8,933.8 737.5,939.4" fill="url(#boltR)" stroke="#3e4044" stroke-width="1.2"/>
<circle cx="726.7" cy="944.4" r="4.7" fill="#c4c6c9" stroke="#6d6f73" stroke-width="1"/>
</g>
<rect x="634" y="622" width="299" height="373" rx="11" fill="none" stroke="#9fb0c4" stroke-width="1.6"/>
<clipPath id="clip4"><rect x="954" y="612" width="284" height="385" rx="11"/></clipPath>
<rect x="954" y="612" width="284" height="385" rx="11" fill="url(#stepBg)"/>
<g clip-path="url(#clip4)">
<ellipse cx="1148.3" cy="961.9" rx="122.0" ry="30.5" fill="url(#floorSh)"/>
<path d="M1170 762 L1240 758 L1240 880 L1170 884 Z" fill="url(#pipeT)"/>
<path d="M1190 802.7 L1240 796.6" stroke="#2a5fc0" stroke-width="1.6" opacity="0.75"/>
<path d="M1190 821.0 L1240 814.9" stroke="#2a5fc0" stroke-width="1.4" opacity="0.6"/>
<ellipse cx="1141.0" cy="838.8" rx="65.0" ry="114.6" transform="rotate(-3 1141.0 838.8)" fill="url(#metalV)" stroke="#85878a" stroke-width="1"/>
<ellipse cx="1115.1" cy="839.9" rx="62.4" ry="105.4" transform="rotate(-3 1115.1 839.9)" fill="#25272b"/>
<ellipse cx="1121.6" cy="841.9" rx="65.0" ry="117.0" transform="rotate(-3 1121.6 841.9)" fill="#1d4aa6" stroke="#173d8a" stroke-width="1"/>
<rect x="1133.8" y="732.5" width="18.3" height="12.2" rx="3" fill="#3b83ec" stroke="#1f55b3" stroke-width="1"/>
<rect x="1155.2" y="765.4" width="18.3" height="12.2" rx="3" fill="#3b83ec" stroke="#1f55b3" stroke-width="1"/>
<rect x="1166.9" y="811.5" width="18.3" height="12.2" rx="3" fill="#3b83ec" stroke="#1f55b3" stroke-width="1"/>
<rect x="1166.6" y="862.1" width="18.3" height="12.2" rx="3" fill="#3b83ec" stroke="#1f55b3" stroke-width="1"/>
<rect x="1154.5" y="907.8" width="18.3" height="12.2" rx="3" fill="#3b83ec" stroke="#1f55b3" stroke-width="1"/>
<rect x="1132.8" y="940.0" width="18.3" height="12.2" rx="3" fill="#3b83ec" stroke="#1f55b3" stroke-width="1"/>
<ellipse cx="1101.2" cy="843.9" rx="65.0" ry="118.8" transform="rotate(-3 1101.2 843.9)" fill="#2e6bd6" stroke="#1c4aa0" stroke-width="1"/>
<ellipse cx="1085.1" cy="846.0" rx="68.9" ry="124.8" transform="rotate(-3 1085.1 846.0)" fill="#173c80"/>
<ellipse cx="1083.1" cy="846.0" rx="68.9" ry="124.8" transform="rotate(-3 1083.1 846.0)" fill="url(#blueD)"/>
<ellipse cx="1070.0" cy="849.0" rx="61.8" ry="120.0" transform="rotate(-3 1070.0 849.0)" fill="#b3b5b8" stroke="#7d7f83" stroke-width="1"/>
<ellipse cx="1065.9" cy="849.0" rx="52.0" ry="116.4" transform="rotate(-3 1065.9 849.0)" fill="#5a5c60" stroke="#2c2e31" stroke-width="1"/>
<ellipse cx="1076.1" cy="851.1" rx="35.8" ry="81.6" transform="rotate(-3 1076.1 851.1)" fill="#141517" stroke="#8a8c90" stroke-width="2"/>
<path d="M952 795 L1038 782 Q1046.1 776.9 1054.3 777 C1073.9 785.1 1092.2 874.2 1062 925 L1060 928 L952 947 Z" fill="url(#pipeT)"/>
<path d="M952 845.8 L1033 830.8" stroke="#2a5fc0" stroke-width="1.3" opacity="0.5"/>
<path d="M952 886.5 L1033 869.5" stroke="#2a5fc0" stroke-width="1.3" opacity="0.4"/>
<path d="M952 947 L1060 928" stroke="#f0f0f0" stroke-width="1.6" opacity="0.85"/>
<path d="M1052.2 779 C1065.8 791.2 1082.0 874.2 1053.9 923" stroke="#3d3f43" stroke-width="2" fill="none"/>
<rect x="1011.4" y="770.8" width="19.2" height="12.5" rx="4.0" fill="#b4b6b9" stroke="#55575b" stroke-width="0.8"/>
<polygon points="1021.1,782.0 1012.4,787.1 1003.7,782.0 1003.7,772.0 1012.4,766.9 1021.1,772.0" fill="url(#boltR)" stroke="#3e4044" stroke-width="1.2"/>
<circle cx="1011.4" cy="776.5" r="4.2" fill="#c4c6c9" stroke="#6d6f73" stroke-width="1"/>
<rect x="1024.0" y="757.5" width="21.3" height="13.9" rx="4.5" fill="#b4b6b9" stroke="#55575b" stroke-width="0.8"/>
<polygon points="1034.7,770.0 1025.0,775.6 1015.3,770.0 1015.3,758.8 1025.0,753.2 1034.7,758.8" fill="url(#boltR)" stroke="#3e4044" stroke-width="1.2"/>
<circle cx="1023.9" cy="763.8" r="4.7" fill="#c4c6c9" stroke="#6d6f73" stroke-width="1"/>
<rect x="1035.5" y="742.9" width="23.4" height="15.3" rx="4.9" fill="#b4b6b9" stroke="#55575b" stroke-width="0.8"/>
<polygon points="1047.2,756.7 1036.5,762.8 1025.8,756.7 1025.8,744.3 1036.5,738.2 1047.2,744.3" fill="url(#boltR)" stroke="#3e4044" stroke-width="1.2"/>
<circle cx="1035.3" cy="749.9" r="5.2" fill="#c4c6c9" stroke="#6d6f73" stroke-width="1"/>
<rect x="1054.5" y="732.6" width="27.7" height="18.1" rx="5.8" fill="#b4b6b9" stroke="#55575b" stroke-width="0.8"/>
<polygon points="1068.1,748.9 1055.5,756.2 1042.9,748.9 1042.9,734.3 1055.5,727.0 1068.1,734.3" fill="url(#boltR)" stroke="#3e4044" stroke-width="1.2"/>
<circle cx="1054.0" cy="740.9" r="6.1" fill="#c4c6c9" stroke="#6d6f73" stroke-width="1"/>
<rect x="1077.4" y="736.4" width="27.7" height="18.1" rx="5.8" fill="#b4b6b9" stroke="#55575b" stroke-width="0.8"/>
<polygon points="1091.0,752.7 1078.4,760.0 1065.8,752.7 1065.8,738.1 1078.4,730.8 1091.0,738.1" fill="url(#boltR)" stroke="#3e4044" stroke-width="1.2"/>
<circle cx="1076.9" cy="744.7" r="6.1" fill="#c4c6c9" stroke="#6d6f73" stroke-width="1"/>
<rect x="1095.0" y="767.3" width="29.8" height="19.4" rx="6.3" fill="#b4b6b9" stroke="#55575b" stroke-width="0.8"/>
<polygon points="1109.6,784.8 1096.0,792.7 1082.4,784.8 1082.4,769.2 1096.0,761.3 1109.6,769.2" fill="url(#boltR)" stroke="#3e4044" stroke-width="1.2"/>
<circle cx="1094.4" cy="776.2" r="6.6" fill="#c4c6c9" stroke="#6d6f73" stroke-width="1"/>
<rect x="1115.5" y="841.0" width="29.8" height="19.4" rx="6.3" fill="#b4b6b9" stroke="#55575b" stroke-width="0.8"/>
<polygon points="1130.1,858.5 1116.5,866.4 1102.9,858.5 1102.9,842.9 1116.5,835.0 1130.1,842.9" fill="url(#boltR)" stroke="#3e4044" stroke-width="1.2"/>
<circle cx="1114.9" cy="849.9" r="6.6" fill="#c4c6c9" stroke="#6d6f73" stroke-width="1"/>
<rect x="1113.0" y="893.1" width="29.8" height="19.4" rx="6.3" fill="#b4b6b9" stroke="#55575b" stroke-width="0.8"/>
<polygon points="1127.6,910.6 1114.0,918.5 1100.4,910.6 1100.4,895.0 1114.0,887.1 1127.6,895.0" fill="url(#boltR)" stroke="#3e4044" stroke-width="1.2"/>
<circle cx="1112.4" cy="902.0" r="6.6" fill="#c4c6c9" stroke="#6d6f73" stroke-width="1"/>
<rect x="1095.0" y="933.7" width="29.8" height="19.4" rx="6.3" fill="#b4b6b9" stroke="#55575b" stroke-width="0.8"/>
<polygon points="1109.6,951.2 1096.0,959.1 1082.4,951.2 1082.4,935.6 1096.0,927.7 1109.6,935.6" fill="url(#boltR)" stroke="#3e4044" stroke-width="1.2"/>
<circle cx="1094.4" cy="942.6" r="6.6" fill="#c4c6c9" stroke="#6d6f73" stroke-width="1"/>
<rect x="1080.0" y="946.0" width="23.4" height="15.3" rx="4.9" fill="#b4b6b9" stroke="#55575b" stroke-width="0.8"/>
<polygon points="1091.7,959.8 1081.0,965.9 1070.3,959.8 1070.3,947.4 1081.0,941.3 1091.7,947.4" fill="url(#boltR)" stroke="#3e4044" stroke-width="1.2"/>
<circle cx="1079.8" cy="953.0" r="5.2" fill="#c4c6c9" stroke="#6d6f73" stroke-width="1"/>
<rect x="1059.6" y="946.0" width="23.4" height="15.3" rx="4.9" fill="#b4b6b9" stroke="#55575b" stroke-width="0.8"/>
<polygon points="1071.3,959.8 1060.6,965.9 1049.9,959.8 1049.9,947.4 1060.6,941.3 1071.3,947.4" fill="url(#boltR)" stroke="#3e4044" stroke-width="1.2"/>
<circle cx="1059.4" cy="953.0" r="5.2" fill="#c4c6c9" stroke="#6d6f73" stroke-width="1"/>
<rect x="1039.0" y="936.5" width="21.3" height="13.9" rx="4.5" fill="#b4b6b9" stroke="#55575b" stroke-width="0.8"/>
<polygon points="1049.7,949.0 1040.0,954.6 1030.3,949.0 1030.3,937.8 1040.0,932.2 1049.7,937.8" fill="url(#boltR)" stroke="#3e4044" stroke-width="1.2"/>
<circle cx="1038.9" cy="942.8" r="4.7" fill="#c4c6c9" stroke="#6d6f73" stroke-width="1"/>
</g>
<rect x="954" y="612" width="284" height="385" rx="11" fill="none" stroke="#7f97b6" stroke-width="1.6"/>
<circle cx="58" cy="669.5" r="22.8" fill="#0f4683"/>
<text x="58" y="679.5" font-family="'Liberation Sans', sans-serif" font-size="29" font-weight="700" fill="#fff" text-anchor="middle" >1</text>
<text x="102" y="666.5" font-family="'Liberation Sans', sans-serif" font-size="26" font-weight="700" fill="#111" text-anchor="start" textLength="176" lengthAdjust="spacingAndGlyphs" >Insert all bolts</text>
<text x="118.5" y="698.0" font-family="'Liberation Sans', sans-serif" font-size="26" font-weight="700" fill="#111" text-anchor="start" textLength="88" lengthAdjust="spacingAndGlyphs" >loosely</text>
<circle cx="371.5" cy="669.3" r="22.8" fill="#0f4683"/>
<text x="371.5" y="679.3" font-family="'Liberation Sans', sans-serif" font-size="29" font-weight="700" fill="#fff" text-anchor="middle" >2</text>
<text x="412" y="666.5" font-family="'Liberation Sans', sans-serif" font-size="26" font-weight="700" fill="#111" text-anchor="start" textLength="120" lengthAdjust="spacingAndGlyphs" >Tighten in</text>
<text x="412" y="698.0" font-family="'Liberation Sans', sans-serif" font-size="26" font-weight="700" fill="#111" text-anchor="start" textLength="145" lengthAdjust="spacingAndGlyphs" >star pattern</text>
<text x="419" y="729.5" font-family="'Liberation Sans', sans-serif" font-size="26" font-weight="700" fill="#111" text-anchor="start" textLength="72" lengthAdjust="spacingAndGlyphs" >(30%)</text>
<circle cx="678" cy="669" r="22.8" fill="#0f4683"/>
<text x="678" y="679" font-family="'Liberation Sans', sans-serif" font-size="29" font-weight="700" fill="#fff" text-anchor="middle" >3</text>
<text x="723" y="666.5" font-family="'Liberation Sans', sans-serif" font-size="26" font-weight="700" fill="#111" text-anchor="start" textLength="196.5" lengthAdjust="spacingAndGlyphs" >Increase torque</text>
<text x="723" y="698.0" font-family="'Liberation Sans', sans-serif" font-size="26" font-weight="700" fill="#111" text-anchor="start" textLength="91" lengthAdjust="spacingAndGlyphs" >to 60%</text>
<circle cx="998" cy="669" r="22.8" fill="#0f4683"/>
<text x="998" y="679" font-family="'Liberation Sans', sans-serif" font-size="29" font-weight="700" fill="#fff" text-anchor="middle" >4</text>
<text x="1045" y="666.5" font-family="'Liberation Sans', sans-serif" font-size="26" font-weight="700" fill="#111" text-anchor="start" textLength="134.5" lengthAdjust="spacingAndGlyphs" >Final 100%</text>
<text x="1045" y="698.0" font-family="'Liberation Sans', sans-serif" font-size="26" font-weight="700" fill="#111" text-anchor="start" textLength="84" lengthAdjust="spacingAndGlyphs" >torque</text>
<rect x="383.5" y="587" width="617" height="44" rx="15" fill="url(#navyBar)"/>
<text x="459" y="619.5" font-family="'Liberation Sans', sans-serif" font-size="30" font-weight="700" fill="#fff" text-anchor="start" textLength="463" lengthAdjust="spacingAndGlyphs" stroke="#fff" stroke-width="0.4">Step-by-Step Tightening Process</text>
<path d="M524 768 L608 663 Q614 660 617 666 L616 676 L536 774 Z" fill="#55575b"/>
<path d="M524 767 L607 662 Q612 659 615 664 L532 769 Z" fill="#d8d9db"/>
<path d="M481 782 Q484 768 497 760 Q515 752 530 758 Q542 766 538 780 Q530 794 508 797 Q488 797 481 782 Z" fill="#c9cacc" stroke="#6d6f72" stroke-width="1.5"/>
<path d="M497 766 L521 764 L525 778 L503 782 Z" fill="#2a2b2e"/>
<path d="M464 745 Q490 732 514 752" stroke="#f6a91c" stroke-width="7" fill="none"/>
<path d="M506 740 L522 760 L502 760 Z" fill="#f6a91c"/>
<path d="M539 770 Q560 760 572 742" stroke="#f6a91c" stroke-width="7" fill="none"/>
<path d="M563 742 L578 733 L579 752 Z" fill="#f6a91c"/>
<path d="M897 728 L934 699" stroke="#1c1d1f" stroke-width="10" stroke-linecap="round"/>
<path d="M840 752 L886 735 L892 748 L846 768 Z" fill="#5e6064"/>
<path d="M838 744 L884 726 L890 740 L844 760 Z" fill="#dcdde0" stroke="#6d6f72" stroke-width="1"/>
<path d="M852 747 L872 739 L875 745 L855 753 Z" fill="#2b2c2f"/>
<path d="M884 726 L898 722 L903 744 L890 750 Z" fill="#cfd0d2" stroke="#5e6064" stroke-width="1"/>
<path d="M790 772 Q792 752 812 750 L834 752 Q840 770 832 784 Q815 792 798 788 Q790 782 790 772 Z" fill="#cdced0" stroke="#6d6f72" stroke-width="1.2"/>
<path d="M805 752 Q820 740 842 746 Q848 760 838 770 Q822 778 808 772 Q800 762 805 752 Z" fill="#222326"/>
<ellipse cx="822" cy="751" rx="8" ry="5" fill="#bfc0c2" stroke="#444" stroke-width="1"/>
<path d="M1220 615 L1238 615 L1238 716 C1232 724 1222 726 1216 730 C1208 742 1200 756 1188 760 C1178 762 1170 752 1168 744 C1160 736 1156 724 1162 708 C1170 690 1192 676 1210 660 C1216 650 1218 636 1220 615 Z" fill="#d8d8d9" stroke="#bfbfc0" stroke-width="1"/>
<ellipse cx="1190" cy="750" rx="14" ry="8" transform="rotate(-20 1190 750)" fill="#77787b"/>
<path d="M1166 734 L1194 720" stroke="#232427" stroke-width="12" stroke-linecap="round"/>
<path d="M1130 753 L1171 737" stroke="#8c8e91" stroke-width="14" stroke-linecap="round"/>
<path d="M1130 751 L1171 735" stroke="#dcdde0" stroke-width="8" stroke-linecap="round"/>
<path d="M1103 760 L1138 750 L1143 768 L1110 780 Z" fill="#3a3b3e" stroke="#8c8e91" stroke-width="1.5"/>
<path d="M1097 818 L1188 796 L1190 816 L1099 838 Z" fill="#8e9093"/>
<path d="M1097 820 L1188 798 L1189 808 L1098 830 Z" fill="#e4e5e7"/>
<path d="M1094 816 L1104 814 L1106 838 L1096 840 Z" fill="#2a2b2e"/>
<path d="M1186 789 L1210 783 L1213 812 L1190 818 Z" fill="#d0d1d3" stroke="#7d7f82" stroke-width="1"/>
<path d="M1210 780 L1240 772 L1240 810 L1213 814 Z" fill="#1d1e20"/>
<circle cx="1076" cy="826" r="20" fill="#d6d7d9" stroke="#7b7d80" stroke-width="2"/>
<circle cx="1073" cy="828" r="9" fill="#8d8f92"/>
<path d="M1037 806 L1058 830" stroke="#f6a91c" stroke-width="7"/>
<path d="M1028 793 L1047 798 L1036 812 Z" fill="#f6a91c"/>
<path d="M1066 841 L1048 836 L1060 822 Z" fill="#f6a91c"/>
<rect x="1254.5" y="620.5" width="275.5" height="365.5" rx="14" fill="#fcfcfd" stroke="#c6ccd5" stroke-width="2.6"/>
<rect x="1270" y="657" width="34.5" height="34" rx="6" fill="#1fae6b"/>
<path d="M1278.5 674.5 L1285 681 L1296 668" stroke="#fff" stroke-width="4" fill="none" stroke-linecap="round" stroke-linejoin="round"/>
<rect x="1270" y="751.5" width="34.5" height="34" rx="6" fill="#1fae6b"/>
<path d="M1278.5 769.0 L1285 775.5 L1296 762.5" stroke="#fff" stroke-width="4" fill="none" stroke-linecap="round" stroke-linejoin="round"/>
<rect x="1270" y="852" width="34.5" height="34" rx="6" fill="#1fae6b"/>
<path d="M1278.5 869.5 L1285 876 L1296 863" stroke="#fff" stroke-width="4" fill="none" stroke-linecap="round" stroke-linejoin="round"/>
<text x="1319" y="677.5" font-family="'Liberation Sans', sans-serif" font-size="25.5" font-weight="700" fill="#111" text-anchor="start" textLength="177" lengthAdjust="spacingAndGlyphs" >Check even gap</text>
<text x="1319" y="708.5" font-family="'Liberation Sans', sans-serif" font-size="25.5" font-weight="700" fill="#111" text-anchor="start" textLength="196" lengthAdjust="spacingAndGlyphs" >around the flange</text>
<text x="1319" y="772.5" font-family="'Liberation Sans', sans-serif" font-size="25.5" font-weight="700" fill="#111" text-anchor="start" textLength="188" lengthAdjust="spacingAndGlyphs" >Verify bolt heads</text>
<text x="1319" y="803.5" font-family="'Liberation Sans', sans-serif" font-size="25.5" font-weight="700" fill="#111" text-anchor="start" textLength="97" lengthAdjust="spacingAndGlyphs" >are level</text>
<text x="1319" y="872" font-family="'Liberation Sans', sans-serif" font-size="25.5" font-weight="700" fill="#111" text-anchor="start" textLength="166" lengthAdjust="spacingAndGlyphs" >Inspect gasket</text>
<text x="1319" y="902.5" font-family="'Liberation Sans', sans-serif" font-size="25.5" font-weight="700" fill="#111" text-anchor="start" textLength="146" lengthAdjust="spacingAndGlyphs" >compression</text>
<text x="1319" y="934" font-family="'Liberation Sans', sans-serif" font-size="25.5" font-weight="700" fill="#111" text-anchor="start" textLength="106" lengthAdjust="spacingAndGlyphs" >uniformly</text>
</svg></body></html>
